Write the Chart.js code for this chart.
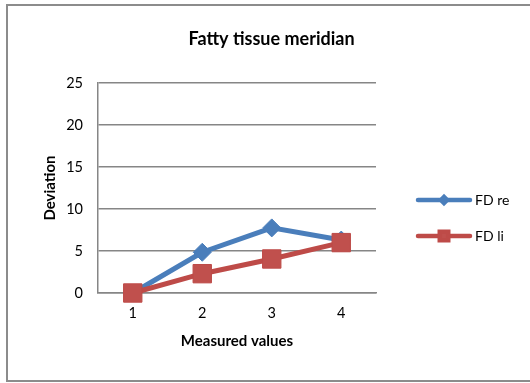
<!DOCTYPE html>
<html>
<head>
<meta charset="utf-8">
<script src="https://cdn.jsdelivr.net/npm/chart.js@4/dist/chart.umd.min.js"></script>
<style>
  html, body { margin: 0; padding: 0; background: #fff; overflow: hidden; }
  #wrap { position: relative; width: 530px; height: 383px; overflow: hidden; }
  #frame { position: absolute; left: 6px; top: 4px; width: 600px; height: 378px;
           border: 2px solid #8c8c8c; box-sizing: border-box; }
  canvas { position: absolute; left: 0; top: 0; }
</style>
</head>
<body>
<div id="wrap">
  <div id="frame"></div>
  <canvas id="c" width="536" height="383"></canvas>
</div>
<script>
// Measurement rounds and deviations per side
const categories = ['1', '2', '3', '4'];
const fdRe = [0, 4.85, 7.75, 6.3];
const fdLi = [0, 2.3, 4.05, 6.0];
const yTicks = [0, 5, 10, 15, 20, 25];

const FONT = 'Lato, "Liberation Sans", sans-serif';
const GRID = '#868686';
const LEGEND_WIDTH = 160;

// Legend entries: a thick line with the series marker in its middle, label to the right
function drawSideLegend(chart) {
  const ctx = chart.ctx;
  const area = chart.chartArea;
  const x0 = area.right + 42, x1 = x0 + 52, mid = (x0 + x1) / 2;
  const y0 = area.top + 117, step = 36;
  ctx.save();
  chart.data.datasets.forEach((ds, i) => {
    const y = y0 + i * step;
    ctx.strokeStyle = ds.borderColor;
    ctx.lineWidth = 4.5;
    ctx.lineCap = 'round';
    ctx.beginPath();
    ctx.moveTo(x0, y);
    ctx.lineTo(x1, y);
    ctx.stroke();
    ctx.fillStyle = ds.pointBackgroundColor;
    ctx.strokeStyle = ds.pointBorderColor;
    ctx.lineCap = 'butt';
    Chart.helpers.drawPoint(ctx, {
      pointStyle: ds.pointStyle,
      radius: ds.pointStyle === 'rect' ? 6 : 3,
      borderWidth: 1
    }, mid, y);
    ctx.fillStyle = '#000';
    ctx.font = '14px ' + FONT;
    ctx.textBaseline = 'middle';
    ctx.textAlign = 'left';
    ctx.fillText(ds.label, x1 + 5, y);
  });
  ctx.restore();
}

// Reserve a fixed column on the right of the plot for the legend
const sideLegend = {
  id: 'sideLegend',
  beforeInit(chart) {
    const box = {
      position: 'right',
      weight: 0,
      fullSize: false,
      options: { stackWeight: 1 },
      left: 0, top: 0, right: 0, bottom: 0, width: 0, height: 0,
      isHorizontal() { return false; },
      update(maxWidth, maxHeight) { this.width = LEGEND_WIDTH; this.height = maxHeight; },
      draw() { drawSideLegend(chart); }
    };
    Chart.layouts.addBox(chart, box);
  }
};

new Chart(document.getElementById('c'), {
  type: 'line',
  data: {
    labels: categories,
    datasets: [
      {
        label: 'FD re',
        data: fdRe,
        order: 1,
        borderColor: '#4A7EBB',
        backgroundColor: '#4A7EBB',
        borderWidth: 5,
        tension: 0,
        pointStyle: 'rectRot',
        pointRadius: 9,
        pointBackgroundColor: '#4A7EBB',
        pointBorderColor: '#4A7EBB',
        pointBorderWidth: 1,
        clip: false
      },
      {
        label: 'FD li',
        data: fdLi,
        order: 0,
        borderColor: '#BE4B48',
        backgroundColor: '#BE4B48',
        borderWidth: 5,
        tension: 0,
        pointStyle: 'rect',
        pointRadius: 13,
        pointBackgroundColor: '#C0504D',
        pointBorderColor: '#BE4B48',
        pointBorderWidth: 1,
        clip: false
      }
    ]
  },
  options: {
    responsive: false,
    animation: false,
    events: [],
    layout: { padding: { left: 7, right: 0, top: 0, bottom: 0 } },
    plugins: {
      legend: { display: false },
      tooltip: { enabled: false },
      title: {
        display: true,
        text: 'Fatty tissue meridian',
        color: '#000',
        font: { family: FONT, size: 18, weight: 'bold' },
        padding: { top: 28, bottom: 33.4 }
      }
    },
    scales: {
      x: {
        offset: true,
        grid: { display: false, drawTicks: false },
        border: { display: true, color: GRID, width: 1.5 },
        ticks: { color: '#000', font: { family: FONT, size: 14.5 }, padding: 12 },
        title: {
          display: true,
          text: 'Measured values',
          color: '#000',
          font: { family: FONT, size: 15, weight: 'bold' },
          padding: { top: 0, bottom: 33 }
        },
        afterFit(scale) { scale.height = 90; }
      },
      y: {
        min: 0,
        max: 25,
        afterBuildTicks(scale) { scale.ticks = yTicks.map(v => ({ value: v })); },
        grid: { color: GRID, lineWidth: 1.5, drawTicks: false },
        border: { display: true, color: GRID, width: 1.5 },
        ticks: { color: '#000', font: { family: FONT, size: 14.5 }, padding: 15 },
        title: {
          display: true,
          text: 'Deviation',
          color: '#000',
          font: { family: FONT, size: 15, weight: 'bold' },
          padding: { top: 34, bottom: 0 }
        },
        afterFit(scale) { scale.width = 91; }
      }
    }
  },
  plugins: [sideLegend]
});
</script>
</body>
</html>
